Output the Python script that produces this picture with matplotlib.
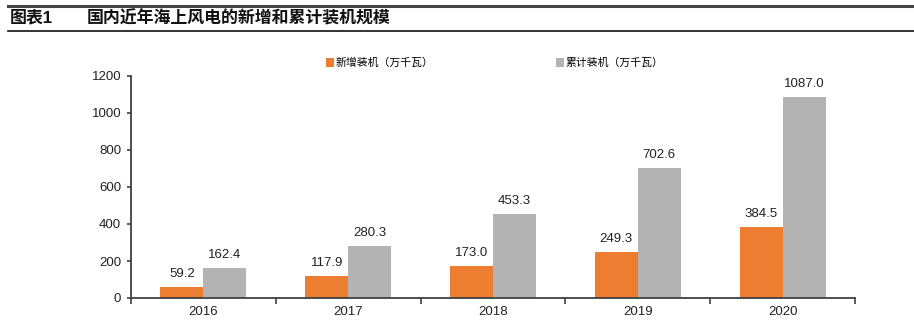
import matplotlib
matplotlib.use("Agg")
import matplotlib.pyplot as plt
from matplotlib.lines import Line2D
import numpy as np

plt.rcParams['font.family'] = ['Liberation Sans', 'Noto Sans CJK SC', 'DejaVu Sans']

years = ["2016", "2017", "2018", "2019", "2020"]
new_capacity = [59.2, 117.9, 173.0, 249.3, 384.5]
total_capacity = [162.4, 280.3, 453.3, 702.6, 1087.0]
series_names = ["新增装机（万千瓦）", "累计装机（万千瓦）"]

ORANGE = "#ed7d31"
GREY = "#b3b3b3"
AXIS = "#404040"

fig = plt.figure(figsize=(9.14, 3.24), dpi=100)
ax = fig.add_axes([131 / 914, 1 - 298 / 324, 724 / 914, 222 / 324])

x = np.arange(len(years))
w = 0.297
b1 = ax.bar(x - w / 2, new_capacity, w, color=ORANGE, label=series_names[0])
b2 = ax.bar(x + w / 2, total_capacity, w, color=GREY, label=series_names[1])

for bars, vals in ((b1, new_capacity), (b2, total_capacity)):
    for rect, v in zip(bars, vals):
        ax.annotate(f"{v:.1f}", (rect.get_x() + rect.get_width() / 2, v),
                    xytext=(0, 5), textcoords="offset points",
                    ha="center", va="bottom", fontsize=9.5, color="#222222")

ax.set_xlim(-0.5, len(years) - 0.5)
ax.set_ylim(0, 1200)
ax.set_yticks(range(0, 1201, 200))
ax.set_xticks(x)
ax.set_xticklabels(years)
ax.set_xticks(np.arange(-0.5, len(years), 1.0), minor=True)
ax.tick_params(axis="x", which="major", length=0, pad=6, labelsize=9.5, colors="#222222")
ax.tick_params(axis="x", which="minor", length=4, width=1.2, color=AXIS)
ax.tick_params(axis="y", length=3, width=1.2, color=AXIS, labelsize=9.5, labelcolor="#222222", pad=4)

for side in ("top", "right"):
    ax.spines[side].set_visible(False)
for side in ("left", "bottom"):
    ax.spines[side].set_color(AXIS)
    ax.spines[side].set_linewidth(1.3)

ax.legend(loc="center", bbox_to_anchor=(0.502, 1.0586), ncol=2, frameon=False,
          fontsize=7.8, handlelength=0.8, handleheight=0.8, handletextpad=0.1,
          columnspacing=11.3, borderpad=0)

# header rules and caption
fig.add_artist(Line2D([8 / 914, 1], [1 - 6 / 324] * 2, color="#444444", lw=2.2))
fig.add_artist(Line2D([8 / 914, 1], [1 - 31 / 324] * 2, color="#111111", lw=1.2))
fig.text(10 / 914, 1 - 18 / 324, "图表1", fontsize=12.2, fontweight="bold",
         ha="left", va="center", color="#111111")
fig.text(87 / 914, 1 - 18 / 324, "国内近年海上风电的新增和累计装机规模", fontsize=12.2,
         fontweight="bold", ha="left", va="center", color="#111111")

fig.savefig("out.png", dpi=100)
